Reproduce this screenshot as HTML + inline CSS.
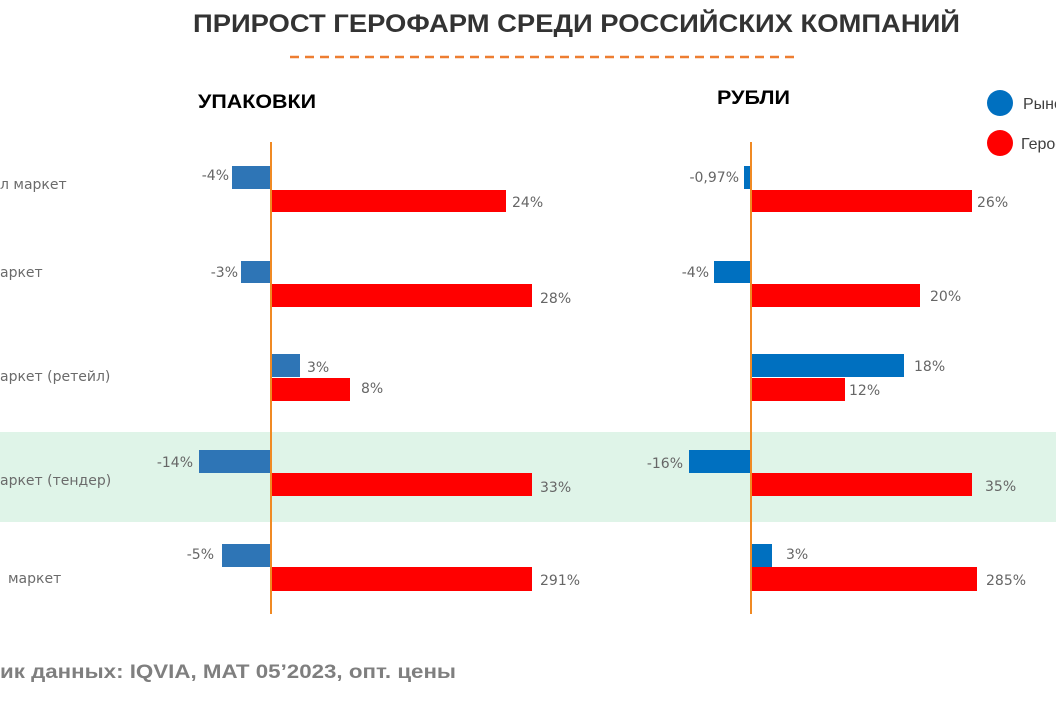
<!DOCTYPE html>
<html><head><meta charset="utf-8"><style>
html,body{margin:0;padding:0;background:#fff;}
svg{display:block;}
text{font-family:"Liberation Sans","DejaVu Sans",sans-serif;}
.v{fill:#666;font-size:14px;font-family:"DejaVu Sans",sans-serif;}
.c{fill:#6b6b6b;font-size:14px;font-family:"DejaVu Sans",sans-serif;}
</style></head><body>
<svg width="1056" height="703" viewBox="0 0 1056 703" xmlns="http://www.w3.org/2000/svg">
<rect x="0" y="432" width="1056" height="90" fill="#dff4e8"/>
<text x="193" y="32" font-size="25" font-weight="bold" fill="#333" textLength="767" lengthAdjust="spacingAndGlyphs">ПРИРОСТ ГЕРОФАРМ СРЕДИ РОССИЙСКИХ КОМПАНИЙ</text>
<line x1="290" y1="57" x2="800" y2="57" stroke="#ed7d31" stroke-width="2.5" stroke-dasharray="9,6"/>
<text x="198" y="108" font-size="19" font-weight="bold" fill="#000" textLength="118" lengthAdjust="spacingAndGlyphs">УПАКОВКИ</text>
<text x="717" y="104" font-size="19" font-weight="bold" fill="#000" textLength="73" lengthAdjust="spacingAndGlyphs">РУБЛИ</text>
<circle cx="1000" cy="103" r="13" fill="#0070c0"/>
<circle cx="1000" cy="143" r="13" fill="#ff0000"/>
<text x="1023" y="109" font-size="16" fill="#404040">Рынок</text>
<text x="1021" y="149" font-size="16" fill="#404040">Герофарм</text>

<text class="c" x="0" y="189">л маркет</text>
<text class="c" x="0" y="277">аркет</text>
<text class="c" x="0" y="381">аркет (ретейл)</text>
<text class="c" x="0" y="485">аркет (тендер)</text>
<text class="c" x="8" y="583">маркет</text>

<g fill="#2e75b6">
<rect x="232" y="166" width="39" height="23"/>
<rect x="241" y="261" width="30" height="22"/>
<rect x="271" y="354" width="29" height="23"/>
<rect x="199" y="450" width="72" height="23"/>
<rect x="222" y="544" width="49" height="23"/>
</g>
<g fill="#ff0000">
<rect x="271" y="190" width="235" height="22"/>
<rect x="271" y="284" width="261" height="23"/>
<rect x="271" y="378" width="79" height="23"/>
<rect x="271" y="473" width="261" height="23"/>
<rect x="271" y="567" width="261" height="24"/>
</g>
<g fill="#0070c0">
<rect x="744" y="166" width="7" height="23"/>
<rect x="714" y="261" width="37" height="22"/>
<rect x="751" y="354" width="153" height="23"/>
<rect x="689" y="450" width="62" height="23"/>
<rect x="751" y="544" width="21" height="23"/>
</g>
<g fill="#ff0000">
<rect x="751" y="190" width="221" height="22"/>
<rect x="751" y="284" width="169" height="23"/>
<rect x="751" y="378" width="94" height="23"/>
<rect x="751" y="473" width="221" height="23"/>
<rect x="751" y="567" width="226" height="24"/>
</g>
<line x1="271" y1="142" x2="271" y2="614" stroke="#f08a24" stroke-width="2"/>
<line x1="751" y1="142" x2="751" y2="614" stroke="#f08a24" stroke-width="2"/>

<text class="v" x="229" y="180" text-anchor="end">-4%</text>
<text class="v" x="512" y="207">24%</text>
<text class="v" x="238" y="277" text-anchor="end">-3%</text>
<text class="v" x="540" y="303">28%</text>
<text class="v" x="307" y="372">3%</text>
<text class="v" x="361" y="393">8%</text>
<text class="v" x="193" y="467" text-anchor="end">-14%</text>
<text class="v" x="540" y="492">33%</text>
<text class="v" x="214" y="559" text-anchor="end">-5%</text>
<text class="v" x="540" y="585">291%</text>
<text class="v" x="739" y="182" text-anchor="end">-0,97%</text>
<text class="v" x="977" y="207">26%</text>
<text class="v" x="709" y="277" text-anchor="end">-4%</text>
<text class="v" x="930" y="301">20%</text>
<text class="v" x="914" y="371">18%</text>
<text class="v" x="849" y="395">12%</text>
<text class="v" x="683" y="468" text-anchor="end">-16%</text>
<text class="v" x="985" y="491">35%</text>
<text class="v" x="786" y="559">3%</text>
<text class="v" x="986" y="585">285%</text>

<text x="0" y="678" font-size="19" font-weight="bold" fill="#7f7f7f" textLength="456" lengthAdjust="spacingAndGlyphs">ик данных: IQVIA, MAT 05’2023, опт. цены</text>
</svg>
</body></html>
